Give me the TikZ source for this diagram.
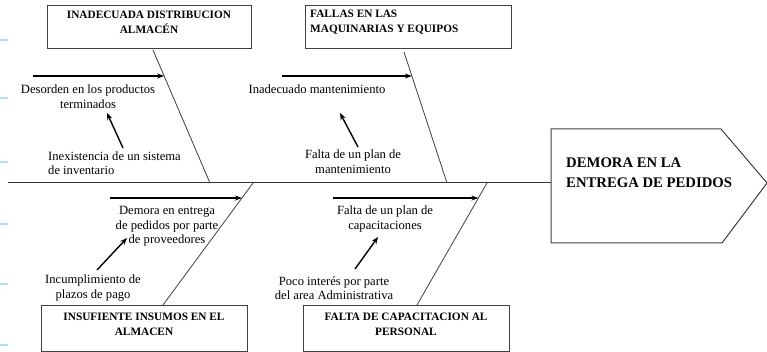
\documentclass[tikz,border=0pt]{standalone}
\usepackage{fontspec}
\setmainfont{Liberation Serif}
\usetikzlibrary{arrows.meta,calc}
\begin{document}
\begin{tikzpicture}[x=1pt,y=-1pt,
  causebox/.style={draw=black!75,line width=1pt,inner sep=0pt},
  headtxt/.style={font=\fontsize{11.3}{15}\selectfont\bfseries,inner sep=0pt},
  bigtxt/.style={font=\fontsize{14.7}{20}\selectfont\bfseries,inner sep=0pt,align=left},
  lbl/.style={font=\fontsize{12.6}{14.5}\selectfont,inner sep=0pt,align=center},
  bone/.style={draw=black!75,line width=0.8pt},
  spine/.style={draw=black!80,line width=1pt},
  harrow/.style={draw=black,line width=1.7pt,-{Stealth[length=7pt,width=5pt]}},
  sarrow/.style={draw=black,line width=1.4pt,-{Stealth[length=7pt,width=5.5pt]}},
  tick/.style={draw=cyan!35,line width=1.1pt}
]
\useasboundingbox (0,0) rectangle (767,352);
% faint left-edge ticks
\foreach \yy [count=\i] in {40,98,162,224,284,345}{
  \coordinate (tk\i a) at (0,\yy); \coordinate (tk\i b) at (8,\yy);
  \draw[tick] (tk\i a) -- (tk\i b);
}
% cause boxes
\node[causebox,minimum width=204pt,minimum height=43pt] (b1) at (149,27.5) {};
\node[causebox,minimum width=206pt,minimum height=43pt] (b2) at (408,27.5) {};
\node[causebox,minimum width=206pt,minimum height=46pt] (b3) at (144,328) {};
\node[causebox,minimum width=206pt,minimum height=46pt] (b4) at (406,328) {};
\node[headtxt,align=center] (t1) at (149,22.5) {INADECUADA DISTRIBUCION\\ALMACÉN};
\node[headtxt,align=left,anchor=west] (t2) at (310,22.5) {FALLAS EN LAS\\MAQUINARIAS Y EQUIPOS};
\node[headtxt,align=center] (t3) at (144,324.5) {INSUFIENTE INSUMOS EN EL\\ALMACEN};
\node[headtxt,align=center] (t4) at (406,324.5) {FALTA DE CAPACITACION AL\\PERSONAL};
% head
\coordinate (h1) at (551,129); \coordinate (h2) at (721,129); \coordinate (h3) at (767,183);
\coordinate (h4) at (722,243); \coordinate (h5) at (551,243); \coordinate (hl) at (551,183);
\draw[draw=black!75,line width=1pt,fill=white] (h1) -- (h2) -- (h3) -- (h4) -- (h5) -- cycle;
\node[bigtxt,anchor=west] (head) at (566,173) {DEMORA EN LA\\ENTREGA DE PEDIDOS};
% spine
\coordinate (sp0) at (8,183);
\draw[spine] (sp0) -- (hl);
% bones
\coordinate (b1t) at (153,50);  \coordinate (s1) at (210,183);
\coordinate (b2t) at (404,52);  \coordinate (s2) at (447,183);
\coordinate (b3t) at (163,305); \coordinate (s3) at (253,183);
\coordinate (b4t) at (417,305); \coordinate (s4) at (487,183);
\draw[bone] (b1t) -- (s1);
\draw[bone] (b2t) -- (s2);
\draw[bone] (b3t) -- (s3);
\draw[bone] (b4t) -- (s4);
% horizontal cause arrows
\coordinate (e1) at ($(b1t)!0.195!(s1)$); \coordinate (a1s) at (33,76);
\coordinate (e2) at ($(b2t)!0.183!(s2)$); \coordinate (a2s) at (282,76);
\coordinate (e3) at ($(s3)!0.123!(b3t)$); \coordinate (a3s) at (110,198);
\coordinate (e4) at ($(s4)!0.123!(b4t)$); \coordinate (a4s) at (333,198);
\draw[harrow] (a1s) -- (e1);
\draw[harrow] (a2s) -- (e2);
\draw[harrow] (a3s) -- (e3);
\draw[harrow] (a4s) -- (e4);
% labels
\node[lbl] (l1) at (88,96.5) {Desorden en los productos\\terminados};
\node[lbl,align=left,anchor=west] (l2) at (48,163) {Inexistencia de un sistema\\de inventario};
\node[lbl] (l3) at (317,89) {Inadecuado mantenimiento};
\node[lbl] (l4) at (353,161.5) {Falta de un plan de\\mantenimiento};
\node[lbl] (l5) at (167,226.5) {Demora en entrega\\de pedidos por parte\\de proveedores};
\node[lbl] (l6) at (93,288) {Incumplimiento de\\plazos de pago};
\node[lbl] (l7) at (385,219) {Falta de un plan de\\capacitaciones};
\node[lbl] (l8) at (334,288) {Poco interés por parte\\del area Administrativa};
% small arrows
\coordinate (m1a) at (123,148); \coordinate (m1b) at (107,113);
\coordinate (m2a) at (358,147); \coordinate (m2b) at (340,113);
\coordinate (m3a) at (97,270);  \coordinate (m3b) at (127,238);
\coordinate (m4a) at (355,269); \coordinate (m4b) at (378,237);
\draw[sarrow] (m1a) -- (m1b);
\draw[sarrow] (m2a) -- (m2b);
\draw[sarrow] (m3a) -- (m3b);
\draw[sarrow] (m4a) -- (m4b);
\end{tikzpicture}
\end{document}
